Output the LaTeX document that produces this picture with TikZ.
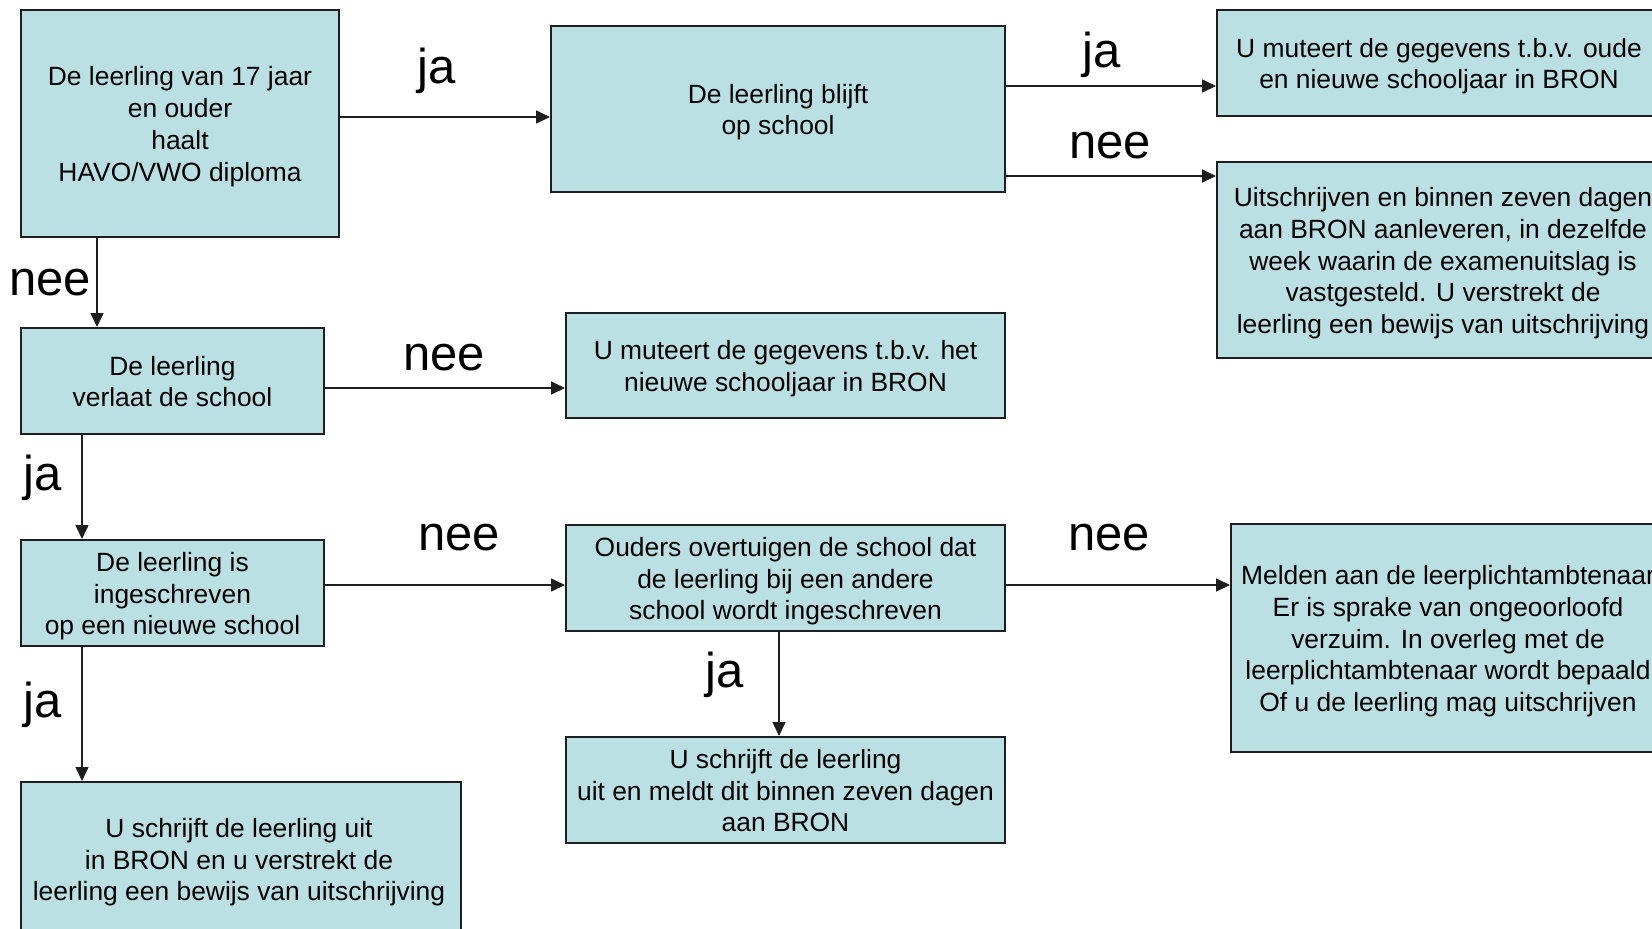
\documentclass[tikz,border=0pt]{standalone}
\usepackage{fontspec}
\setmainfont{Liberation Sans}
\usetikzlibrary{arrows.meta,calc}
\definecolor{boxfill}{RGB}{186,224,227}
\definecolor{boxline}{RGB}{30,30,30}
\newcommand\boxfont{\fontsize{26.4}{31.7}\selectfont}
\newcommand\lblfont{\fontsize{49}{55}\selectfont}
\newcommand\ts{\rule{0pt}{27pt}}
\newcommand\bs{\rule[-7pt]{0pt}{7pt}}
\tikzset{
  box/.style={draw=boxline, fill=boxfill, line width=2pt, inner sep=0pt, align=center, font=\boxfont},
  txt/.style={inner sep=0pt, align=center, font=\boxfont},
  lbl/.style={inner sep=0pt, anchor=base, font=\lblfont},
  arr/.style={line width=1.6pt, draw=boxline, -{Triangle[length=14pt,width=13pt]}},
}
\begin{document}
\begin{tikzpicture}[x=1pt,y=-1pt]
\useasboundingbox (0,0) rectangle (1652,929);
\fill[white] (0,0) rectangle (1652,929);

% boxes
\node[box, minimum width=318pt, minimum height=227pt] (A) at (180,123.5)
  {\ts De leerling van 17 jaar\\en ouder\\haalt\\HAVO/VWO diploma\bs};
\node[box, minimum width=454pt, minimum height=166pt] (B) at (778,109)
  {\ts De leerling blijft\\op school\bs};
\node[box, minimum width=483pt, minimum height=106pt] (C) at (1458.5,63) {};
\node[txt] (Ct) at (1439,63) {\ts U muteert de gegevens t.b.v. oude\\en nieuwe schooljaar in BRON\bs};
\node[box, minimum width=483pt, minimum height=196pt] (D) at (1458.5,260) {};
\node[txt] (Dt) at (1443,260) {\ts Uitschrijven en binnen zeven dagen\\aan BRON aanleveren, in dezelfde\\week waarin de examenuitslag is\\vastgesteld. U verstrekt de\\leerling een bewijs van uitschrijving\bs};
\node[box, minimum width=303pt, minimum height=106pt] (E) at (172.5,381)
  {\ts De leerling\\verlaat de school\bs};
\node[box, minimum width=439pt, minimum height=105pt] (F) at (785.5,365.5)
  {\ts U muteert de gegevens t.b.v. het\\nieuwe schooljaar in BRON\bs};
\node[box, minimum width=303pt, minimum height=106pt] (G) at (172.5,593)
  {\ts De leerling is\\ingeschreven\\op een nieuwe school\bs};
\node[box, minimum width=439pt, minimum height=106pt] (H) at (785.5,578)
  {\ts Ouders overtuigen de school dat\\de leerling bij een andere\\school wordt ingeschreven\bs};
\node[box, minimum width=439pt, minimum height=106pt] (I) at (785.5,790)
  {\ts U schrijft de leerling\\uit en meldt dit binnen zeven dagen\\aan BRON\bs};
\node[box, minimum width=440pt, minimum height=178pt] (J) at (241,871) {};
\node[txt] (Jt) at (239,859) {\ts U schrijft de leerling uit\\in BRON en u verstrekt de\\leerling een bewijs van uitschrijving\bs};
\node[box, minimum width=469pt, minimum height=228pt] (K) at (1465.5,638) {};
\node[txt] (Kt) at (1448,638) {\ts Melden aan de leerplichtambtenaar\\Er is sprake van ongeoorloofd\\verzuim. In overleg met de\\leerplichtambtenaar wordt bepaald\\Of u de leerling mag uitschrijven\bs};

% connector levels
\coordinate (yAB) at (0,117);
\coordinate (xAE) at (97,0);
\coordinate (yBC) at (0,86);
\coordinate (yBD) at (0,176);
\coordinate (yEF) at (0,388);
\coordinate (xEG) at (82,0);
\coordinate (yGH) at (0,585);
\coordinate (xHI) at (779,0);

\draw[arr] (A.east |- yAB) -- (B.west |- yAB);
\draw[arr] (A.south -| xAE) -- (E.north -| xAE);
\draw[arr] (B.east |- yBC) -- (C.west |- yBC);
\draw[arr] (B.east |- yBD) -- (D.west |- yBD);
\draw[arr] (E.east |- yEF) -- (F.west |- yEF);
\draw[arr] (E.south -| xEG) -- (G.north -| xEG);
\draw[arr] (G.east |- yGH) -- (H.west |- yGH);
\draw[arr] (G.south -| xEG) -- (J.north -| xEG);
\draw[arr] (H.east |- yGH) -- (K.west |- yGH);
\draw[arr] (H.south -| xHI) -- (I.north -| xHI);

% labels
\node[lbl] (l1) at (437,83) {ja};
\node[lbl] (l2) at (50,295) {nee};
\node[lbl] (l3) at (1102,67) {ja};
\node[lbl] (l4) at (1110,158) {nee};
\node[lbl] (l5) at (444,370) {nee};
\node[lbl] (l6) at (43,490) {ja};
\node[lbl] (l7) at (459,550) {nee};
\node[lbl] (l8) at (43,717) {ja};
\node[lbl] (l9) at (1109,550) {nee};
\node[lbl] (l10) at (725,687) {ja};
\end{tikzpicture}
\end{document}
